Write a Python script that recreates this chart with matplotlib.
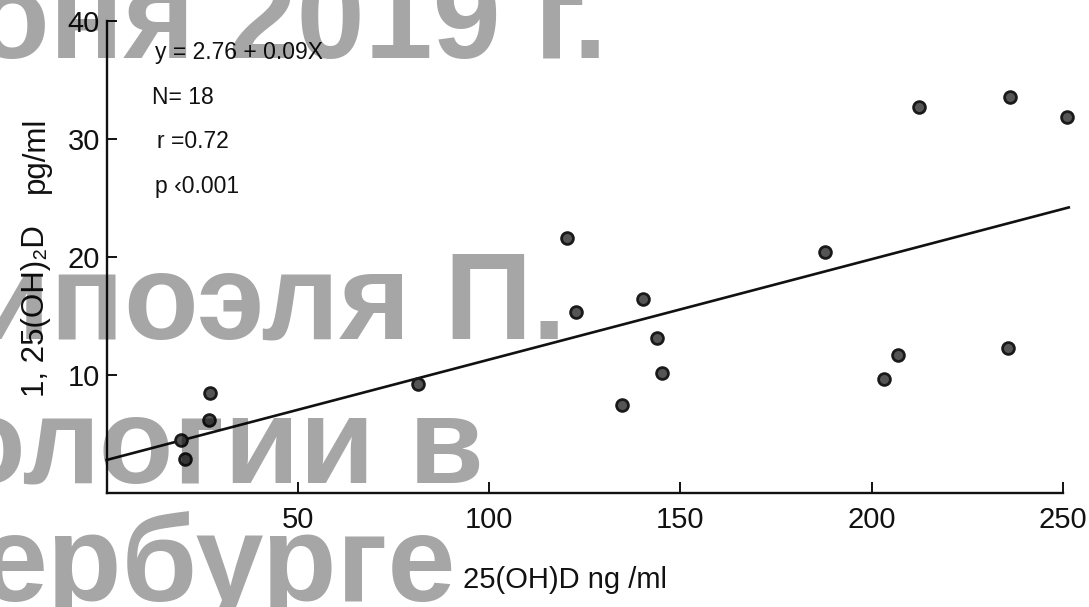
import matplotlib
matplotlib.use("Agg")
import matplotlib.pyplot as plt

# ---- data ----
x_vals = [19.4, 20.5, 27.0, 26.7, 81.4, 120.3, 122.7, 140.2, 143.9, 145.2,
          134.7, 187.8, 212.4, 236.2, 251.0, 206.9, 203.2, 235.6]
y_vals = [4.5, 2.9, 8.5, 6.2, 9.2, 21.6, 15.3, 16.4, 13.1, 10.2,
          7.5, 20.4, 32.7, 33.6, 31.9, 11.7, 9.7, 12.3]
fit_x = [0, 251.5]
fit_y = [2.8, 24.2]
x_ticks = [50, 100, 150, 200, 250]
y_ticks = [10, 20, 30, 40]
stats_lines = ["y = 2.76 + 0.09X", "N= 18", "r =0.72", "p \u20390.001"]
ylabel_parts = ["1, 25(OH)\u2082D", "pg/ml"]
xlabel = "25(OH)D ng /ml"
watermark = ["оня 2019 г.", "ипоэля П.", "ологии в", "ербурге"]

W, H = 1089, 607
fig = plt.figure(figsize=(W / 100, H / 100), dpi=100)
fig.patch.set_facecolor("white")

font = ["Liberation Sans", "DejaVu Sans"]
ink = "#111111"

left, right = 106.7, 1063.0
y0, y40 = 493.0, 21.0
ax = fig.add_axes([left / W, (H - y0) / H, (right - left) / W, (y0 - y40) / H])
ax.set_xlim(0, 250)
ax.set_ylim(0, 40)
for s in ["top", "right"]:
    ax.spines[s].set_visible(False)
for s in ["left", "bottom"]:
    ax.spines[s].set_linewidth(1.7)
    ax.spines[s].set_color(ink)

ax.set_xticks(x_ticks)
ax.set_yticks(y_ticks)
ax.set_xticklabels([str(v) for v in x_ticks], fontfamily=font, fontsize=21, color=ink)
ax.set_yticklabels([str(v) for v in y_ticks], fontfamily=font, fontsize=21, color=ink)
ax.tick_params(axis="x", direction="in", length=8, width=1.4, pad=9, colors=ink)
ax.tick_params(axis="y", direction="in", length=7, width=1.4, pad=5, colors=ink)

ax.plot(fit_x, fit_y, color=ink, lw=1.9, clip_on=False, zorder=2)
ax.scatter(x_vals, y_vals, s=72, facecolor="#555555", edgecolor="#1a1a1a",
           linewidth=2.0, clip_on=False, zorder=3)

# statistics block
stats_pos = [(155, 53), (152, 98), (157, 142), (155, 186)]
for (px, py), t in zip(stats_pos, stats_lines):
    fig.text(px / W, 1 - py / H, t, fontfamily=font, fontsize=16.5,
             color=ink, ha="left", va="center")

# axis labels
fig.text(565 / W, 1 - 580 / H, xlabel, fontfamily=font, fontsize=21,
         color=ink, ha="center", va="center")
ylabel_pos = [(36, 311), (36, 155)]
for (px, py), t in zip(ylabel_pos, ylabel_parts):
    fig.text(px / W, 1 - py / H, t, fontfamily=font, fontsize=22.5,
             color=ink, ha="center", va="center", rotation=90)

# watermark overlay
wm_pos = [(607, 58), (566, 338), (484, 483), (456, 601)]
for (px, py), t in zip(wm_pos, watermark):
    fig.text(px / W, 1 - py / H, t, fontfamily=font,
             fontweight="bold", fontsize=88, color="black", alpha=0.35,
             ha="right", va="baseline", zorder=10)

fig.savefig("out.png", dpi=100, facecolor="white")
